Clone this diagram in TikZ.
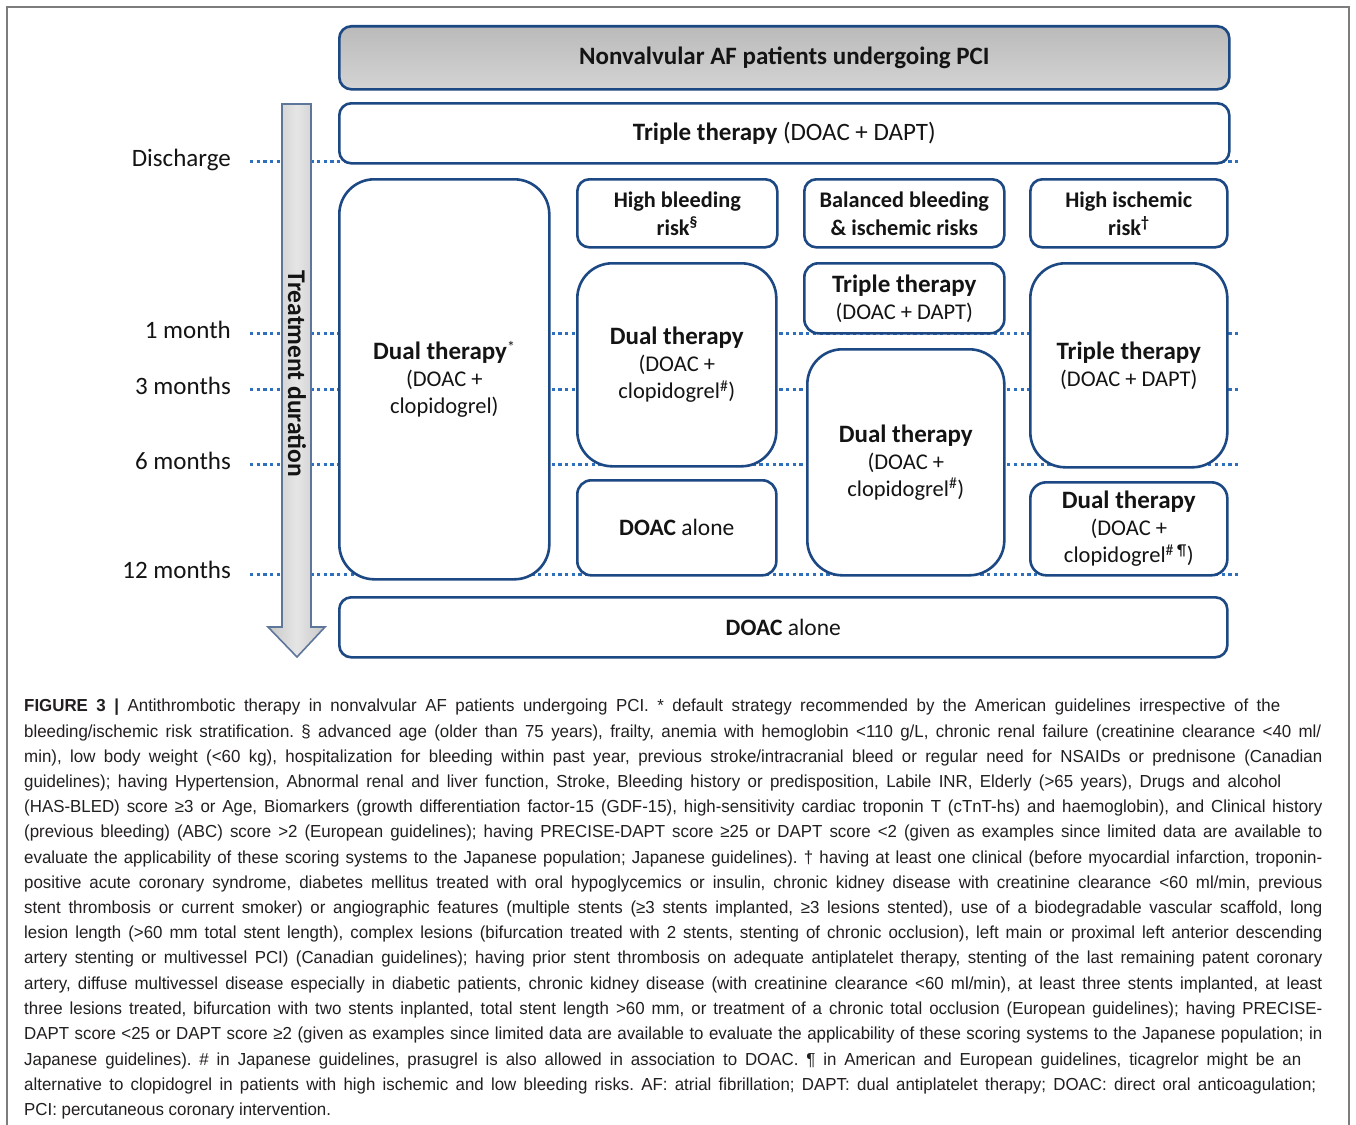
\documentclass[tikz,border=0pt]{standalone}
\usepackage{fontspec}
\setmainfont{Carlito}
\newfontfamily\capfont[FakeStretch=0.97]{Liberation Sans}
\definecolor{navy}{RGB}{28,72,132}
\definecolor{dotblue}{RGB}{46,112,190}
\definecolor{arrowedge}{RGB}{95,118,155}
\definecolor{captxt}{RGB}{35,31,32}
\definecolor{framegray}{RGB}{125,125,125}
\definecolor{boxtxt}{RGB}{20,20,20}
\newcommand{\ttl}[1]{{\fontsize{25}{27}\selectfont\bfseries #1}}
\newcount\wcnt
\newcount\wpar
\def\splitw#1 #2\endsplit{\global\advance\wcnt1 \ifodd\numexpr\wcnt+\wpar\relax#1\else\phantom{#1}\fi\if\relax\detokenize{#2}\relax\else\space\splitw#2\endsplit\fi}
\newcommand{\capl}[2]{\global\wcnt=0 \wpar=1 \rlap{\makebox[#1][s]{\splitw#2 \endsplit}}\global\wcnt=0 \wpar=0 \makebox[#1][s]{\splitw#2 \endsplit}}
\newcommand{\capn}[1]{\global\wcnt=0 \wpar=1 \rlap{\splitw#1 \endsplit}\global\wcnt=0 \wpar=0 \splitw#1 \endsplit}
\frenchspacing
\begin{document}
\begin{tikzpicture}[x=1pt,y=-1pt,
  box/.style={draw=navy, line width=2.6pt, fill=white, anchor=north west, inner sep=0pt, align=center, text=boxtxt, font=\fontsize{22.5}{27}\selectfont},
  riskbox/.style={box, rounded corners=12pt, minimum height=68pt, font=\bfseries\fontsize{22.3}{28}\selectfont},
  guide/.style={draw=dotblue, line width=3pt, dash pattern=on 3.3pt off 3.4pt},
  tlabel/.style={anchor=east, inner sep=0pt, text=boxtxt, font=\fontsize{25}{28}\selectfont},
  capline/.style={anchor=base west, inner sep=0pt, text=captxt, font=\capfont\fontsize{17.4}{25}\selectfont},
]
\useasboundingbox (0,0) rectangle (1356,1124);
\fill[white] (0,0) rectangle (1356,1124);
\draw[framegray, line width=1.3pt] (7,1130) -- (7,7) -- (1349,7) -- (1349,1130);

% time labels
\node[tlabel] (lDis) at (231,160) {Discharge};
\node[tlabel] (l1) at (231,330) {1 month};
\node[tlabel] (l3) at (231,386) {3 months};
\node[tlabel] (l6) at (231,461) {6 months};
\node[tlabel] (l12) at (231,570) {12 months};
\coordinate (eDis) at (1241,161);
\coordinate (e1) at (1241,333);
\coordinate (e3) at (1241,389);
\coordinate (e6) at (1241,464);
\coordinate (e12) at (1241,574);
\draw[guide] ([xshift=19pt]lDis.east |- eDis) -- (eDis);
\draw[guide] ([xshift=19pt]l1.east |- e1) -- (e1);
\draw[guide] ([xshift=19pt]l3.east |- e3) -- (e3);
\draw[guide] ([xshift=19pt]l6.east |- e6) -- (e6);
\draw[guide] ([xshift=19pt]l12.east |- e12) -- (e12);

% arrow
\draw[arrowedge, line width=1.6pt, left color=black!22, right color=black!22, middle color=black!10]
  (282,104) -- (311,104) -- (311,627) -- (325,627) -- (297,657) -- (268,627) -- (282,627) -- cycle;
\node[rotate=-90, inner sep=0pt, text=boxtxt, font=\bfseries\fontsize{25.5}{28}\selectfont] (arrlbl) at (297,374) {Treatment duration};

% boxes
\node[box, rounded corners=12pt, minimum width=890pt, minimum height=63pt, top color=black!27, bottom color=black!17, font=\bfseries\fontsize{25}{28}\selectfont] (hdr) at (338,25) {Nonvalvular AF patients undergoing PCI};
\node[box, rounded corners=12pt, minimum width=890pt, minimum height=60pt, font=\fontsize{25}{28}\selectfont] (tri) at (338,102) {\textbf{Triple therapy} (DOAC + DAPT)};

\node[box, rounded corners=35pt, minimum width=210pt, minimum height=400pt] (d1) at (338,178) {\ttl{Dual therapy}\textsuperscript{*}\\(DOAC +\\clopidogrel)};

\node[riskbox, minimum width=200pt] (hb) at (576,178) {High bleeding\\risk\textsuperscript{§}};
\node[riskbox, minimum width=200pt] (bal) at (803,178) {Balanced bleeding\\\& ischemic risks};
\node[riskbox, minimum width=197pt] (hi) at (1029,178) {High ischemic\\risk\textsuperscript{†}};

\node[box, rounded corners=35pt, minimum width=199pt, minimum height=203pt] (d2) at (576,262) {\ttl{Dual therapy}\\(DOAC +\\clopidogrel\textsuperscript{\#})};
\node[box, rounded corners=14pt, minimum width=199pt, minimum height=95pt, font=\fontsize{23.5}{27}\selectfont] (da2) at (576,479) {\textbf{DOAC} alone};

\node[box, rounded corners=14pt, minimum width=200pt, minimum height=70pt] (t3) at (803,262) {\ttl{Triple therapy}\\(DOAC + DAPT)};
\node[box, rounded corners=35pt, minimum width=197pt, minimum height=226pt] (d3) at (806,348) {\ttl{Dual therapy}\\(DOAC +\\clopidogrel\textsuperscript{\#})};

\node[box, rounded corners=35pt, minimum width=197pt, minimum height=204pt] (t4) at (1029,262) {\ttl{Triple therapy}\\(DOAC + DAPT)};
\node[box, rounded corners=16pt, minimum width=197pt, minimum height=93pt] (d4) at (1029,481) {\ttl{Dual therapy}\\(DOAC +\\clopidogrel\textsuperscript{\# ¶})};

\node[box, rounded corners=12pt, minimum width=888pt, minimum height=60pt, font=\fontsize{23.5}{27}\selectfont] (bot) at (338,596) {\textbf{DOAC} alone};

% caption
\node[capline] (c1) at (24,711) {\capl{1256pt}{\textbf{FIGURE} \textbf{3} \textbf{|} Antithrombotic therapy in nonvalvular AF patients undergoing PCI. * default strategy recommended by the American guidelines irrespective of the}};
\node[capline] (c2) at (24,737) {\capl{1297pt}{bleeding/ischemic risk stratification. § advanced age (older than 75 years), frailty, anemia with hemoglobin <110 g/L, chronic renal failure (creatinine clearance <40 ml/}};
\node[capline] (c3) at (24,762) {\capl{1298pt}{min), low body weight (<60 kg), hospitalization for bleeding within past year, previous stroke/intracranial bleed or regular need for NSAIDs or prednisone (Canadian}};
\node[capline] (c4) at (24,787) {\capl{1257pt}{guidelines); having Hypertension, Abnormal renal and liver function, Stroke, Bleeding history or predisposition, Labile INR, Elderly (>65 years), Drugs and alcohol}};
\node[capline] (c5) at (24,812) {\capl{1298pt}{(HAS-BLED) score ≥3 or Age, Biomarkers (growth differentiation factor-15 (GDF-15), high-sensitivity cardiac troponin T (cTnT-hs) and haemoglobin), and Clinical history}};
\node[capline] (c6) at (24,837) {\capl{1298pt}{(previous bleeding) (ABC) score >2 (European guidelines); having PRECISE-DAPT score ≥25 or DAPT score <2 (given as examples since limited data are available to}};
\node[capline] (c7) at (24,863) {\capl{1298pt}{evaluate the applicability of these scoring systems to the Japanese population; Japanese guidelines). † having at least one clinical (before myocardial infarction, troponin-}};
\node[capline] (c8) at (24,888) {\capl{1298pt}{positive acute coronary syndrome, diabetes mellitus treated with oral hypoglycemics or insulin, chronic kidney disease with creatinine clearance <60 ml/min, previous}};
\node[capline] (c9) at (24,913) {\capl{1298pt}{stent thrombosis or current smoker) or angiographic features (multiple stents (≥3 stents implanted, ≥3 lesions stented), use of a biodegradable vascular scaffold, long}};
\node[capline] (c10) at (24,938) {\capl{1298pt}{lesion length (>60 mm total stent length), complex lesions (bifurcation treated with 2 stents, stenting of chronic occlusion), left main or proximal left anterior descending}};
\node[capline] (c11) at (24,963) {\capl{1298pt}{artery stenting or multivessel PCI) (Canadian guidelines); having prior stent thrombosis on adequate antiplatelet therapy, stenting of the last remaining patent coronary}};
\node[capline] (c12) at (24,989) {\capl{1298pt}{artery, diffuse multivessel disease especially in diabetic patients, chronic kidney disease (with creatinine clearance <60 ml/min), at least three stents implanted, at least}};
\node[capline] (c13) at (24,1014) {\capl{1298pt}{three lesions treated, bifurcation with two stents inplanted, total stent length >60 mm, or treatment of a chronic total occlusion (European guidelines); having PRECISE-}};
\node[capline] (c14) at (24,1039) {\capl{1298pt}{DAPT score <25 or DAPT score ≥2 (given as examples since limited data are available to evaluate the applicability of these scoring systems to the Japanese population; in}};
\node[capline] (c15) at (24,1065) {\capl{1277pt}{Japanese guidelines). \# in Japanese guidelines, prasugrel is also allowed in association to DOAC. ¶ in American and European guidelines, ticagrelor might be an}};
\node[capline] (c16) at (24,1090) {\capl{1292pt}{alternative to clopidogrel in patients with high ischemic and low bleeding risks. AF: atrial fibrillation; DAPT: dual antiplatelet therapy; DOAC: direct oral anticoagulation;}};
\node[capline] (c17) at (24,1115) {\capn{PCI: percutaneous coronary intervention.}};
\end{tikzpicture}
\end{document}
